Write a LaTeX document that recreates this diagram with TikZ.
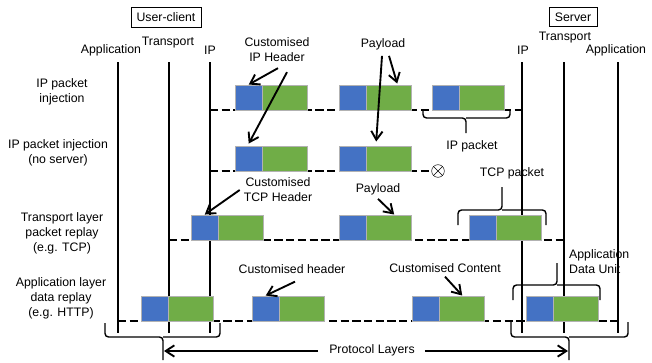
\documentclass[tikz,border=0pt]{standalone}
\usepackage{fontspec}
\setmainfont{Liberation Sans}
\usetikzlibrary{arrows.meta,calc}
\definecolor{hdrblue}{HTML}{4472C4}
\definecolor{pldgreen}{HTML}{70AD47}
\tikzset{
  layer/.style={line width=1.9pt},
  wire/.style={line width=1.7pt, dash pattern=on 7pt off 3pt},
  hdr/.style={draw=gray!60, fill=hdrblue, minimum width=0.81cm, minimum height=0.75cm, inner sep=0pt, anchor=south west},
  pld/.style={draw=gray!60, fill=pldgreen, minimum width=1.35cm, minimum height=0.75cm, inner sep=0pt, anchor=west},
  lbl/.style={align=center},
  endbox/.style={draw, thin, inner xsep=5pt, inner ysep=4.5pt},
  ptr/.style={line width=1.6pt, -{Straight Barb[length=2.6mm,width=3.4mm]}},
  brc/.style={line width=1.2pt, rounded corners=3pt},
}
\newcommand{\packet}[3]{%
  \node[hdr] (#1h) at (#2,#3) {};
  \node[pld] (#1p) at (#1h.east) {};
}
\begin{document}
\begin{tikzpicture}[x=0.03cm, y=-0.03cm, font=\fontsize{10.5}{12.8}\selectfont]
\useasboundingbox (0,0) rectangle (652,362);

% end points and their layers
\node[endbox] (client) at (166,17) {User-client};
\node[endbox] (server) at (573,17) {Server};
\node (capp) at (111,50) {Application};
\node (ctrn) at (168,43) {Transport};
\node (cip) at (210,50) {IP};
\node (sip) at (523,50) {IP};
\node (strn) at (565,38) {Transport};
\node (sapp) at (616,50) {Application};
\foreach \x in {118,169,210,522,564,618}
  \draw[layer] (\x,62) -- (\x,333);

% rows
\node[lbl] (row1) at (62,92) {IP packet\\injection};
\node[lbl] (row2) at (58,153) {IP packet injection\\(no server)};
\node[lbl] (row3) at (62,233) {Transport layer\\packet replay\\(e.g. TCP)};
\node[lbl] (row4) at (61,298) {Application layer\\data replay\\(e.g. HTTP)};

\node[circle, draw, thin, minimum size=0.38cm, inner sep=0pt] (stop) at (438,171) {};
\draw[thin] (stop.north west) -- (stop.south east) (stop.north east) -- (stop.south west);

\draw[wire] (210,110) -- (522,110);
\draw[wire] (210,171) -- (stop.west);
\draw[wire] (169,240) -- (564,240);
\draw[wire] (118,321) -- (618,321);

% packets
\packet{r1a}{235}{110}
\packet{r1b}{339}{110}
\packet{r1c}{432}{110}
\packet{r2a}{235}{171}
\packet{r2b}{339}{171}
\packet{r3a}{191}{240}
\packet{r3b}{339}{240}
\packet{r3c}{469}{240}
\packet{r4a}{141}{321}
\packet{r4b}{252}{321}
\packet{r4c}{412}{321}
\packet{r4d}{526}{321}

% labels and pointers
\node[lbl] (iphdr) at (277,50) {Customised\\IP Header};
\draw[ptr] ($(iphdr.south)+(1,2)$) -- (r1ah.north);
\draw[ptr] ($(iphdr.south)+(10,6)$) -- ($(r2ah.north)+(0,-2)$);
\node (pay1) at (383,44) {Payload};
\draw[ptr] ($(pay1.south)+(6,2)$) -- ($(r1bp.north)+(8,-1)$);
\draw[ptr] ($(pay1.south)+(-1,2)$) -- ($(r2bp.north)+(-13,-4)$);
\node[lbl] (tcphdr) at (278,190) {Customised\\TCP Header};
\draw[ptr] (tcphdr.west) -- (r3ah.north);
\node (pay3) at (378,189) {Payload};
\draw[ptr] (pay3.south) -- ($(r3bp.north)+(5,0)$);
\node (chdr) at (292,269) {Customised header};
\draw[ptr] ($(chdr.south)+(3,4)$) -- (r4bh.north);
\node (ccont) at (445,268) {Customised Content};
\draw[ptr] (ccont.south) -- (r4cp.north);

% braces
\draw[brc] (423,110) -- (423,118) -- (466,118) -- (466,133);
\draw[brc] (466,118) -- (510,118) -- (510,110);
\node (ippkt) at (472,146) {IP packet};
\draw[brc] (458,225) -- (458,210) -- (502,210) -- (502,187);
\draw[brc] (502,210) -- (546,210) -- (546,225);
\node (tcppkt) at (512,173) {TCP packet};
\draw[brc] (513,300) -- (513,285) -- (557,285) -- (557,263);
\draw[brc] (557,285) -- (600,285) -- (600,300);
\node[align=left, anchor=west] (adu) at (565,262) {Application\\Data Unit};
\draw[brc] (105,323) -- (105,337) -- (163,337) -- (163,360);
\draw[brc] (163,337) -- (220,337) -- (220,323);
\draw[brc] (511,322) -- (511,337) -- (569,337) -- (569,360);
\draw[brc] (569,337) -- (628,337) -- (628,322);

\node (proto) at (372,350) {Protocol Layers};
\coordinate (ltip) at (164,351);
\coordinate (rtip) at (568,351);
\draw[ptr] ($(proto.west)+(-7,1)$) -- (ltip);
\draw[ptr] ($(proto.east)+(6,1)$) -- (rtip);
\end{tikzpicture}
\end{document}
